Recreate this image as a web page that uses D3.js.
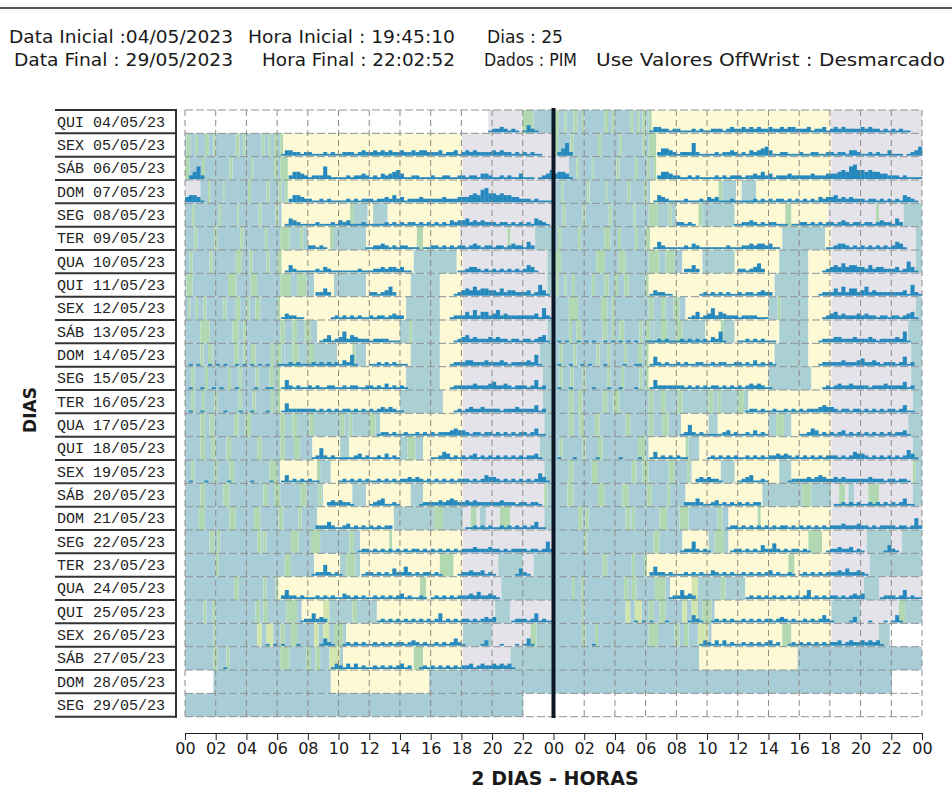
<!DOCTYPE html>
<html>
<head>
<meta charset="utf-8">
<script src="https://cdn.jsdelivr.net/npm/d3@7"></script>
<style>
body { margin: 0; background: #fff; }
</style>
</head>
<body>
<svg id="chart" width="952" height="792"></svg>
<script>
// one row per day, left half = the day, right half = the next day
var dias = ["QUI 04/05/23", "SEX 05/05/23", "SÁB 06/05/23", "DOM 07/05/23", "SEG 08/05/23",
    "TER 09/05/23", "QUA 10/05/23", "QUI 11/05/23", "SEX 12/05/23", "SÁB 13/05/23",
    "DOM 14/05/23", "SEG 15/05/23", "TER 16/05/23", "QUA 17/05/23", "QUI 18/05/23",
    "SEX 19/05/23", "SÁB 20/05/23", "DOM 21/05/23", "SEG 22/05/23", "TER 23/05/23",
    "QUA 24/05/23", "QUI 25/05/23", "SEX 26/05/23", "SÁB 27/05/23", "DOM 28/05/23",
    "SEG 29/05/23"];

// state changes per day: letter + hour it starts
// s = repouso, t = repouso diurno, n/l = faixas verdes, y = luz, g = escuro, w = sem dados
var fundo = [
    "w0 g19.75 n22 s22.7",
    "s0 n0.1 s0.35 n0.7 s0.85 n1.3 s1.55 n1.85 s2 n3.3 s3.55 n3.8 s3.95 n5 s5.2 n5.45 s5.6 n5.8 s6.05 n6.2 y6.4 g18.05",
    "n0 s0.3 n1.1 s1.3 n2.9 s3.1 n4.3 s4.45 n5.8 s6 n6.2 y6.7 g18.1",
    "g0 s1 n1.5 s1.65 n2.5 s2.6 n4.1 s4.3 n5.3 s5.5 n6.1 s6.3 n6.5 y6.7 g18.1",
    "s0 n0.5 s0.65 n2.2 s2.35 n3.4 s3.5 n4.8 s5 n5.9 s6.1 y6.3 n10.75 t11 y11.9 t12.25 y13.2 g18.1",
    "s0 n0.6 s0.8 n1.9 s2.1 n3.6 s3.8 n5.2 s5.35 n6.2 t6.8 n7.5 t7.7 y8 n9.45 t9.7 y11.8 n15.1 y15.5 g17.9 n21 g21.2 t22.8",
    "s0 n0.3 s0.5 n1.6 s1.8 n3.3 s3.7 n4.2 s4.4 n5.3 s5.5 n6 y6.3 t14.9 y17.7 g18.1 t23.6",
    "s0 n0.1 s0.5 n2.8 s3.35 n4.25 s4.7 n6.2 s6.9 n7.3 s7.9 y8.4 t9.7 y11.8 t14.7 y16.6 g18.1 t23.6",
    "s0 n0.2 s0.35 n0.7 s0.85 n1.2 s1.4 n2.5 s2.7 n3.3 s3.6 n4 s4.2 n4.6 s4.9 n6 y6.2 t14.4 y16.6 g18.1",
    "s0 n1 s1.6 n3.1 s3.5 n3.8 s4 n6.2 s6.5 n7 s7.3 n7.8 s8.2 y8.6 t14 n14.6 t14.8 y16.6 g18.1 t23.6",
    "s0 n1 s1.2 n1.5 s1.8 n3.2 s3.5 n3.8 s4 n4.3 s4.6 n5.6 s5.8 n6 s6.3 t6.5 n7 t7.4 n8 t8.4 y9.9 n10.9 t11.1 y11.8 t14.7 y16.6 g18.1 t23.1",
    "s0 n0.4 s0.6 n1.3 s1.5 n2.8 s3 n3.5 s3.7 n4.6 s4.8 n5.5 s5.8 n6 y6.2 t14.4 y16.6 g18.1 t23.3",
    "s0 n0.4 s0.6 n1.1 s1.3 n1.9 s2.1 n3.5 s3.7 n4.4 s4.6 n5.6 s5.8 n6 y6.2 t14 y16.8 g18.1 t23.3",
    "s0 n1 s1.3 n1.6 s1.9 n3.2 s3.5 n3.9 s4.3 n6.2 t6.5 n7 t7.3 n8.1 t8.4 n10.1 t10.4 n10.7 t10.9 n12 t12.4 y12.7 g18.1 t23.4",
    "s0 n1 s1.3 n1.7 s2 n2.7 s3 n4.7 s5 n6.2 s6.5 n7.1 s7.5 y8.3 t10.1 y10.7 t14 n14.5 t15 y15.5 g18.1 t23.1",
    "s0 n0.4 s0.6 n1.9 s2.1 n2.9 s3.2 n5.5 s6 y6.2 n8.6 t8.8 y9.5 g18.1 t23.4",
    "s0 n1 s1.3 n2.5 s2.9 n5.1 s5.4 n5.8 s6.2 n7.5 s7.9 n8.7 s8.9 y9 t10.9 y11.8 t14.7 y15.5 g18.1 n23.4 t23.6",
    "s0 n0.9 s1.3 n2.9 s3.3 n4.5 s4.9 n6.1 s6.4 n7.4 s7.6 y8.6 t13.6 n16.2 t16.8 g18.1 n18.6 g19 t19.2 g19.6 n20.5 g21.2 t23.4",
    "s0 n1.6 s1.9 n2.1 s2.3 n4.7 s5 n5.1 s5.3 n6.9 s7.4 n8.2 s8.8 n10.7 s11 y11.4 n13.3 y13.5 g18.1",
    "s0 n2 s2.2 n6.5 s6.9 y8.4 t10.1 n10.5 t11.1 y11.4 n16.6 y17.5 g18.1 t20.4 g22 t22.7",
    "s0 n3.2 s3.5 n5.1 s5.3 n5.9 y6.1 n15.3 y15.7 g18.1 t20.6",
    "s0 n1.2 s1.4 n1.8 s2 n4.6 s4.9 n5.1 s5.4 n6.6 s7.3 y7.6 l9 t9.4 n10.9 t11.2 y12.5 g18.1 t20.2 g21.2",
    "s0 n1.85 s2 l4.7 s5 l5.3 s5.75 n6.2 s6.5 n6.9 s7.3 l8.4 s8.7 l9 s9.4 n9.7 s10.3 y10.5 t18.1 g20 n22.5 t22.9",
    "s0 n1.85 s2.1 n2.7 s2.9 n6.2 s6.8 n7.9 s8.2 n8.5 s8.8 l9.4 s10.1 y10.3 n14.9 y15.5 g18.1 t21.2",
    "s0 y9.5 s15.9",
    "s0 w22.05"
];

// PIM activity, one digit every 15 minutes (groups of 2 hours)
var atividade = [
    "00000000 00000000 00000000 00000000 00000000 00000000 00000000 00000000 00000000 00000001 22321210 14210000",
    "00000000 00000000 00000000 01332212 21112121 12221232 23232322 32232332 22312231 23232222 32322121 21211000",
    "02472000 00000000 00000000 00024432 12227211 11212232 12132345 31122111 21122112 21221332 11212113 11101235",
    "34431000 00000000 00000000 00024432 21121211 11212122 21223242 31222322 22232223 33454785 54544332 22121111",
    "00000000 00000000 00000000 00143211 11211121 32311121 11112121 21221212 12121323 34232322 21221212 12143210",
    "00000000 00000000 00000000 00000000 22121000 00000001 12232121 22111011 22121212 21232122 12212322 14200000",
    "00000000 00000000 00000000 00142111 11213211 11111211 12232332 31100000 00000001 12332121 21212121 24310000",
    "00000000 00000000 00000000 00000000 00224200 00000000 22123520 00000000 00000012 34353443 32423322 23126310",
    "00000000 00000000 00000000 01322110 00000012 12121211 21221232 20000000 00000122 24252442 35232222 22231621",
    "00000000 00000000 00000000 00000000 00012412 36243222 12222111 00000000 00000012 34232223 23221221 22123410",
    "01010010 10100101 01010100 11121211 12121212 13261000 11212121 11000000 00000122 23322232 22321222 23261000",
    "01001001 01000100 00100110 01521211 21211221 12122112 21213121 21000000 00000122 22232223 42232122 21251200",
    "01001000 00100010 01000100 01522222 22121212 12212121 21232321 10000000 00000012 12322322 22122232 22241200",
    "00000000 00000000 00000000 00000000 00000000 00000000 00122121 12112121 21222343 32122122 12121212 21241100",
    "00000000 00000000 00000000 00000000 01262121 11112312 11213121 00000000 11243121 21231212 12121212 12231000",
    "01000100 00010000 01000010 01412121 21100000 12121212 11212121 22323212 12121212 22121243 32121212 12125310",
    "00000000 00000000 00000000 00000000 00000232 32210000 12341121 00000122 22323432 23232222 22322212 21221000",
    "00000000 00000000 00000000 00000000 00222421 12312121 21212200 00000000 00000000 01121212 11212121 21241100",
    "00000000 00000000 00000000 00000000 00000000 00000122 12121212 12122121 21212121 22232223 22121222 21221262",
    "00000000 00000000 00000000 00000000 01226212 10000012 21212142 25212122 12100001 22322312 10000014 21000000",
    "00000000 00000000 00000000 02522121 11212121 13212121 12121212 31211210 12121212 22324223 21000000 00000000",
    "00000000 00000000 00000000 00000012 25232000 00000000 00121212 12121212 12512121 22121232 30000122 21251211",
    "00000000 00000000 00000101 01000100 00014210 01212121 12121212 21232121 12121242 10000130 00100010 14100000",
    "00000000 00100000 00000000 00000000 00000013 21313121 12121212 31200121 21212121 22312322 32323100 00000000",
    "00000000 00000000 00000000 00000000 00000000 00000000 00000000 00000000 00000000 00000000 00000000 00000000",
    "00000000 00000000 00000000 00000000 00000000 00000000 00000000 00000000 00000000 00000000 00000000 00000000"
];

// blank stretches shown in only one of the two copies: [row, half, from, to]
var vazios = [[22, 1, 21.9, 24], [24, 0, 0, 1.85]];

var horas = d3.range(0, 49, 2);
// text, left x, baseline y, width
var cabecalho = [
    ["Data Inicial :04/05/2023", 9, 43, 224], ["Hora Inicial : 19:45:10", 248, 43, 207], ["Dias : 25", 487, 43, 76],
    ["Data Final : 29/05/2023", 14, 66, 219], ["Hora Final : 22:02:52", 262, 66, 193], ["Dados : PIM", 484, 66, 93],
    ["Use Valores OffWrist : Desmarcado", 596, 66, 349]
];

var cores = {s: "#a9cdd6", t: "#abd0d4", n: "#b1d8b0", l: "#d2e5ad", y: "#fcf9d4", g: "#e5e3ea", w: "#ffffff"};
var corAtiv = "#2589bd";
var fonte = "'DejaVu Sans', Verdana, sans-serif";

var svg = d3.select("#chart");
var x = d3.scaleLinear().domain([0, 48]).range([185, 922]);
var y = d3.scaleBand().domain(dias).range([110, 716.7]);
var alt = d3.scaleLinear().domain([0, 10]).range([0, 18]);
var bw = y.bandwidth();

function segmentos(str) {
    var t = str.trim().split(/\s+/).map(function (s) {
        return {k: s[0], ini: +s.slice(1)};
    });
    t.forEach(function (d, i) { d.fim = i < t.length - 1 ? t[i + 1].ini : 24; });
    return t;
}

var blocos = [], barras = [];
dias.forEach(function (dia, r) {
    [0, 1].forEach(function (half) {
        var di = r + half;
        if (di >= fundo.length) return;
        segmentos(fundo[di]).forEach(function (s) {
            blocos.push({row: dia, half: half, k: s.k, ini: s.ini, fim: s.fim});
        });
        var a = atividade[di].replace(/\s/g, "");
        for (var i = 0; i < a.length; i++) {
            if (+a[i] > 0) barras.push({row: dia, half: half, t: i / 4, v: +a[i]});
        }
    });
});

// header
svg.append("line").attr("x1", 0).attr("x2", 952).attr("y1", 8).attr("y2", 8)
    .attr("stroke", "#555").attr("stroke-width", 2);
svg.selectAll(".cab").data(cabecalho).enter().append("text")
    .attr("class", "cab")
    .attr("x", function (d) { return d[1]; })
    .attr("y", function (d) { return d[2]; })
    .attr("textLength", function (d) { return d[3]; })
    .attr("lengthAdjust", "spacingAndGlyphs")
    .style("font", "17px " + fonte).attr("fill", "#1a1a1a")
    .text(function (d) { return d[0]; });

// backgrounds
svg.append("g").selectAll("rect").data(blocos).enter().append("rect")
    .attr("x", function (d) { return x(d.ini + 24 * d.half); })
    .attr("width", function (d) { return x(d.fim + 24 * d.half) - x(d.ini + 24 * d.half); })
    .attr("y", function (d) { return y(d.row); })
    .attr("height", bw)
    .attr("fill", function (d) { return cores[d.k]; });

// activity
svg.append("g").selectAll("rect").data(barras).enter().append("rect")
    .attr("x", function (d) { return x(d.t + 24 * d.half); })
    .attr("width", x(0.25) - x(0) + 0.2)
    .attr("y", function (d) { return y(d.row) + bw - 1 - alt(d.v); })
    .attr("height", function (d) { return alt(d.v); })
    .attr("fill", corAtiv);

svg.append("g").selectAll("rect").data(vazios).enter().append("rect")
    .attr("x", function (d) { return x(d[2] + 24 * d[1]); })
    .attr("width", function (d) { return x(d[3]) - x(d[2]); })
    .attr("y", function (d) { return y(dias[d[0]]); })
    .attr("height", bw)
    .attr("fill", "#fff");

// grid
svg.append("g").selectAll("line").data(horas).enter().append("line")
    .attr("x1", function (d) { return x(d); }).attr("x2", function (d) { return x(d); })
    .attr("y1", 110).attr("y2", 717)
    .attr("stroke", "#8e8984").attr("stroke-width", 1).attr("stroke-dasharray", "6,4");
svg.append("g").selectAll("line").data(d3.range(dias.length + 1)).enter().append("line")
    .attr("x1", x(0)).attr("x2", x(48))
    .attr("y1", function (d) { return 110 + d * bw; }).attr("y2", function (d) { return 110 + d * bw; })
    .attr("stroke", "#8a9396").attr("stroke-width", 1).attr("stroke-dasharray", "8,3");

svg.append("line").attr("x1", x(24)).attr("x2", x(24)).attr("y1", 108).attr("y2", 718)
    .attr("stroke", "#0d1826").attr("stroke-width", 4);

// day labels
svg.append("g").selectAll("text").data(dias).enter().append("text")
    .attr("x", 57).attr("y", function (d) { return y(d) + bw / 2 + 5; })
    .style("font", "15px 'Liberation Mono', 'Courier New', monospace").attr("fill", "#222")
    .text(function (d) { return d; });
svg.append("g").selectAll("line").data(d3.range(dias.length + 1)).enter().append("line")
    .attr("x1", 55).attr("x2", 177)
    .attr("y1", function (d) { return 110 + d * bw; }).attr("y2", function (d) { return 110 + d * bw; })
    .attr("stroke", "#333").attr("stroke-width", 2);
svg.append("line").attr("x1", 176).attr("x2", 176).attr("y1", 109).attr("y2", 717.7)
    .attr("stroke", "#333").attr("stroke-width", 2);

// x axis
var eixo = d3.axisBottom(x).tickValues(horas).tickSize(7)
    .tickFormat(function (d) { return d3.format("02")(d % 24); });
var gx = svg.append("g").attr("transform", "translate(0,733)").call(eixo);
gx.select(".domain").attr("stroke", "#222");
gx.selectAll(".tick line").attr("stroke", "#222");
gx.selectAll(".tick text").style("font", "16px " + fonte).attr("fill", "#1a1a1a");

svg.append("text").attr("x", 555).attr("y", 785).attr("text-anchor", "middle")
    .style("font", "bold 19px " + fonte).attr("fill", "#1a1a1a")
    .text("2 DIAS - HORAS");
svg.append("text").attr("transform", "translate(36,410) rotate(-90)").attr("text-anchor", "middle")
    .style("font", "bold 17px " + fonte).attr("fill", "#1a1a1a")
    .text("DIAS");
</script>
</body>
</html>
